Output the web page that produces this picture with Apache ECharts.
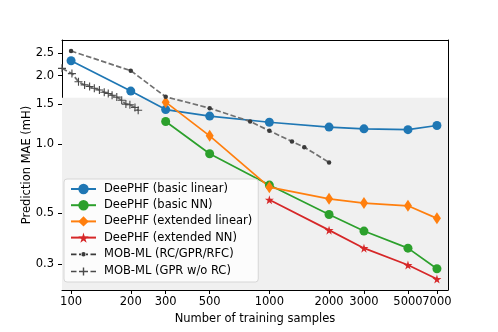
<!DOCTYPE html>
<html>
<head>
<meta charset="utf-8">
<script src="https://cdn.jsdelivr.net/npm/echarts@6/dist/echarts.min.js"></script>
<style>
  html, body { margin: 0; padding: 0; background: #fff; }
  #chart { width: 498px; height: 332px; }
</style>
</head>
<body>
<div id="chart"></div>
<script>
// training set sizes
const samples = [300, 500, 1000, 2000, 3000, 5000, 7000];
const samplesLinear = [100, 200, 300, 500, 1000, 2000, 3000, 5000, 7000];
const samplesExtNN = [1000, 2000, 3000, 5000, 7000];

// DeePHF results (mH)
const basicLinear = [2.32, 1.71, 1.42, 1.33, 1.25, 1.19, 1.17, 1.16, 1.21];
const basicNN = [1.26, 0.91, 0.664, 0.494, 0.418, 0.352, 0.286];
const extLinear = [1.53, 1.09, 0.65, 0.578, 0.554, 0.539, 0.475];
const extNN = [0.573, 0.422, 0.352, 0.297, 0.258];

// MOB-ML references
const mobRcX = [100, 200, 300, 500, 800, 1000, 1300, 1500, 2000];
const mobRcY = [2.56, 2.10, 1.615, 1.44, 1.26, 1.147, 1.03, 0.973, 0.834];
const mobGprX = [90, 101, 109, 117, 124, 131, 139, 147, 154, 161, 170, 180, 189, 198, 210, 218];
const mobGprY = [2.15, 2.04, 1.88, 1.82, 1.79, 1.76, 1.73, 1.69, 1.67, 1.64, 1.61, 1.56, 1.50, 1.49, 1.45, 1.41];

// tick labels (7000 sits right against 5000, so it gets its own axis layer)
const xTicks = [100, 200, 300, 500, 1000, 2000, 3000, 5000];
const xTicksLast = [7000];
const yTicks = [0.3, 0.5, 1.0, 1.5, 2.0, 2.5];
const shadeTop = 1.6;

const xMin = 90, xMax = 7960, yMin = 0.231, yMax = 2.86;

const pair = (xs, ys) => xs.map((x, i) => [x, ys[i]]);

const starPath = 'path://M50,0 L61,35 L98,35 L68,57 L79,91 L50,70 L21,91 L32,57 L2,35 L39,35 Z';
const plusPath = 'path://M4.3,0H5.7V4.3H10V5.7H5.7V10H4.3V5.7H0V4.3H4.3Z';

// legend icons for the dashed reference lines (25 x 13 box)
const dashes = 'M0,0 L0,0 M25,13 L25,13 ' +
  'M0,5.65H5.5V7.35H0Z M8,5.65H11V7.35H8Z M14,5.65H17V7.35H14Z M19.5,5.65H25V7.35H19.5Z ';
const dotIcon = 'path://' + dashes +
  'M10.3,6.5 A2.2,2.2 0 1,0 14.7,6.5 A2.2,2.2 0 1,0 10.3,6.5 Z';
const plusIcon = 'path://' + dashes +
  'M8.5,5.8H16.5V7.2H8.5Z M11.8,2.5H13.2V10.5H11.8Z';

const font = 'DejaVu Sans';
const dash = [5.5, 2.4];

function lineSeries(name, data, color, symbol, size, extra) {
  return Object.assign({
    name: name,
    type: 'line',
    data: data,
    symbol: symbol,
    symbolSize: size,
    showSymbol: true,
    z: 3,
    itemStyle: { color: color },
    lineStyle: { color: color, width: 1.7 },
    emphasis: { disabled: true },
    animation: false
  }, extra || {});
}

function xLabelStyle(ticks) {
  return { color: '#000', fontFamily: font, fontSize: 11.5, margin: 6,
           interval: 0, showMinLabel: true, showMaxLabel: true,
           customValues: ticks, formatter: v => String(Math.round(v)) };
}

const chart = echarts.init(document.getElementById('chart'));
chart.setOption({
  animation: false,
  textStyle: { fontFamily: font },
  grid: { left: 62, right: 50, top: 40, bottom: 42 },
  legend: {
    orient: 'vertical',
    left: 64,
    top: 179,
    padding: [4, 6, 4, 6],
    itemWidth: 25,
    itemHeight: 13,
    itemGap: 4.2,
    backgroundColor: 'rgba(255,255,255,0.8)',
    borderColor: '#d6d6d6',
    borderWidth: 1,
    borderRadius: 3,
    textStyle: { fontFamily: font, fontSize: 11.5, color: '#000', padding: [0, 0, 0, 3] },
    data: ['DeePHF (basic linear)', 'DeePHF (basic NN)', 'DeePHF (extended linear)',
           'DeePHF (extended NN)',
           { name: 'MOB-ML (RC/GPR/RFC)', icon: dotIcon },
           { name: 'MOB-ML (GPR w/o RC)', icon: plusIcon }]
  },
  xAxis: [{
    type: 'log',
    logBase: 10,
    min: xMin,
    max: xMax,
    name: 'Number of training samples',
    nameLocation: 'middle',
    nameGap: 21,
    nameTextStyle: { fontFamily: font, fontSize: 11.5, color: '#000' },
    axisLine: { show: true, lineStyle: { color: '#000', width: 1 } },
    axisTick: { show: true, length: 4, lineStyle: { color: '#000' }, customValues: xTicks },
    axisLabel: xLabelStyle(xTicks),
    splitLine: { show: false },
    minorTick: { show: false }
  }, {
    type: 'log',
    position: 'top',
    min: xMin,
    max: xMax,
    axisLine: { show: true, lineStyle: { color: '#000', width: 1 } },
    axisTick: { show: false },
    axisLabel: { show: false },
    splitLine: { show: false }
  }, {
    type: 'log',
    position: 'bottom',
    offset: 0,
    min: xMin,
    max: xMax,
    axisLine: { show: false },
    axisTick: { show: true, length: 4, lineStyle: { color: '#000' }, customValues: xTicksLast },
    axisLabel: xLabelStyle(xTicksLast),
    splitLine: { show: false },
    minorTick: { show: false }
  }],
  yAxis: [{
    type: 'log',
    logBase: 10,
    min: yMin,
    max: yMax,
    name: 'Prediction MAE (mH)',
    nameLocation: 'middle',
    nameGap: 29,
    nameMoveOverlap: false,
    nameTextStyle: { fontFamily: font, fontSize: 11.5, color: '#000' },
    axisLine: { show: true, lineStyle: { color: '#000', width: 1 } },
    axisTick: { show: true, length: 4, lineStyle: { color: '#000' }, customValues: yTicks },
    axisLabel: { color: '#000', fontFamily: font, fontSize: 11.5, margin: 8,
                 interval: 0, customValues: yTicks, formatter: v => Number(v).toFixed(1) },
    splitLine: { show: false },
    minorTick: { show: false }
  }, {
    type: 'log',
    position: 'right',
    min: yMin,
    max: yMax,
    axisLine: { show: true, lineStyle: { color: '#000', width: 1 } },
    axisTick: { show: false },
    axisLabel: { show: false },
    splitLine: { show: false }
  }],
  series: [
    {
      name: 'shade',
      type: 'line',
      data: [],
      z: 1,
      silent: true,
      markArea: {
        silent: true,
        itemStyle: { color: '#f0f0f0' },
        data: [[{ yAxis: yMin }, { yAxis: shadeTop }]]
      }
    },
    lineSeries('DeePHF (basic linear)', pair(samplesLinear, basicLinear), '#1f77b4', 'circle', 9),
    lineSeries('DeePHF (basic NN)', pair(samples, basicNN), '#2ca02c', 'circle', 9),
    lineSeries('DeePHF (extended linear)', pair(samples, extLinear), '#ff7f0e', 'diamond', [8, 12]),
    lineSeries('DeePHF (extended NN)', pair(samplesExtNN, extNN), '#d62728', starPath, 9),
    lineSeries('MOB-ML (RC/GPR/RFC)', pair(mobRcX, mobRcY), '#3a3a3a', 'circle', 4.5, {
      lineStyle: { color: '#707070', width: 1.7, type: dash }
    }),
    lineSeries('MOB-ML (GPR w/o RC)', pair(mobGprX, mobGprY), '#4a4a4a', plusPath, 8, {
      lineStyle: { color: '#707070', width: 1.7, type: dash }
    })
  ]
});
</script>
</body>
</html>
